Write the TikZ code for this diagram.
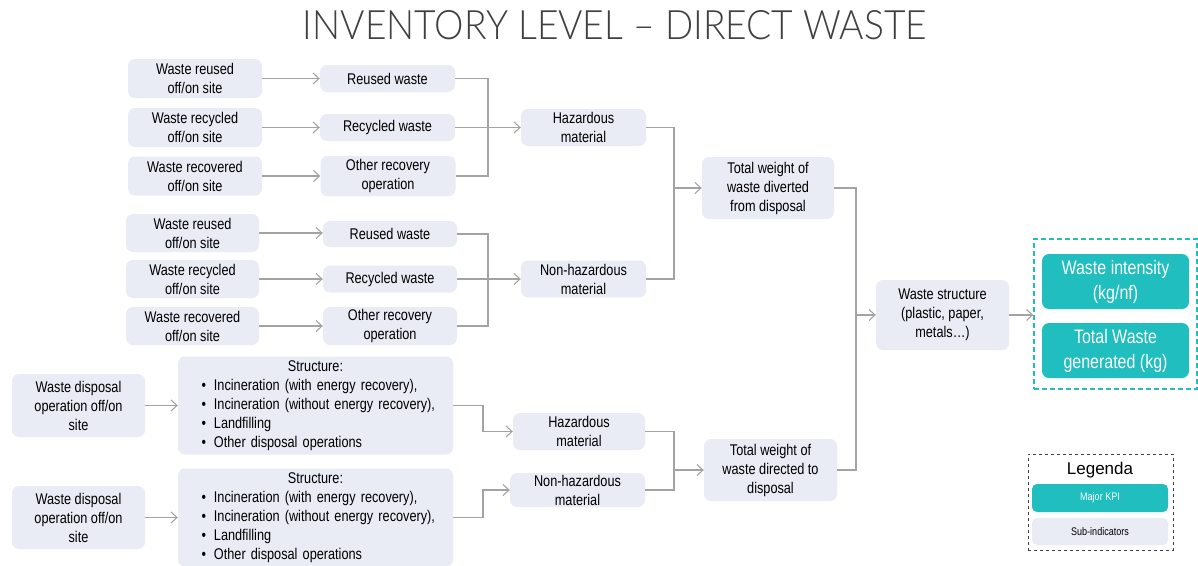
\documentclass[tikz,border=0pt]{standalone}
\usepackage{fontspec}
\usepackage{graphicx}
\usetikzlibrary{arrows.meta}
\setmainfont{Liberation Sans}[FakeStretch=0.82]
\newfontfamily\plainsans{Liberation Sans}
\IfFontExistsTF{Lato Light}
  {\newfontfamily\titlefont{Lato Light}[Ligatures=TeX]}
  {\newfontfamily\titlefont{Lato}[Ligatures=TeX]}

\definecolor{subfill}{HTML}{E9EBF5}
\definecolor{kpiteal}{HTML}{20BEBE}
\definecolor{wire}{HTML}{A3A3A3}
\definecolor{titlegray}{HTML}{404040}

\tikzset{
  sub/.style={fill=subfill, rounded corners=7pt, align=center, inner sep=0pt,
    font=\fontsize{15.5}{19}\selectfont, text=black},
  kpi/.style={fill=kpiteal, rounded corners=7pt, align=center, inner sep=0pt,
    font=\fontsize{19.5}{25}\selectfont, text=white},
  conn/.style={draw=wire, line width=1.1pt},
  arr/.style={conn, -{Straight Barb[length=6pt,width=11pt,line width=1.1pt]}},
  structbox/.style={sub, text width=250pt, align=left,
    minimum width=275pt, minimum height=98pt},
}
\newcommand{\itm}[1]{\hspace*{11pt}\textbullet\hspace{8pt}#1}

\begin{document}
\begin{tikzpicture}[x=1pt,y=-1pt]
\useasboundingbox (0,0) rectangle (1198,565);

% heading
\node[text=titlegray] (title) at (615,25)
  {\resizebox{624pt}{29pt}{\titlefont INVENTORY LEVEL \textendash{} DIRECT WASTE}};

% upper hazardous branch
\node[sub, minimum width=134pt, minimum height=39pt] (a1) at (195,78.5) {Waste reused\\off/on site};
\node[sub, minimum width=134pt, minimum height=39pt] (a2) at (195,127.5) {Waste recycled\\off/on site};
\node[sub, minimum width=134pt, minimum height=39pt] (a3) at (195,176) {Waste recovered\\off/on site};
\node[sub, minimum width=135pt, minimum height=27pt] (b1) at (387.5,78.5) {Reused waste};
\node[sub, minimum width=135pt, minimum height=27pt] (b2) at (387.5,127.5) {Recycled waste};
\node[sub, minimum width=135pt, minimum height=40pt] (b3) at (388,176) {Other recovery\\operation};
\node[sub, minimum width=125pt, minimum height=37pt] (h1) at (583.5,127.5) {Hazardous\\material};

% upper non-hazardous branch
\node[sub, minimum width=133pt, minimum height=38pt] (c1) at (192.5,233) {Waste reused\\off/on site};
\node[sub, minimum width=133pt, minimum height=38pt] (c2) at (192.5,279) {Waste recycled\\off/on site};
\node[sub, minimum width=133pt, minimum height=38pt] (c3) at (192.5,326) {Waste recovered\\off/on site};
\node[sub, minimum width=134pt, minimum height=26pt] (d1) at (390,234) {Reused waste};
\node[sub, minimum width=134pt, minimum height=27pt] (d2) at (390,279) {Recycled waste};
\node[sub, minimum width=134pt, minimum height=38pt] (d3) at (390,326) {Other recovery\\operation};
\node[sub, minimum width=125pt, minimum height=37pt] (n1) at (583.5,279) {Non-hazardous\\material};

\node[sub, minimum width=132pt, minimum height=62pt] (div) at (768,188) {Total weight of\\waste diverted\\from disposal};

% disposal branches
\node[sub, minimum width=133pt, minimum height=63pt] (e1) at (78.5,405.5) {Waste disposal\\operation off/on\\site};
\node[structbox] (f1) at (315.5,405.5) {\makebox[\linewidth]{Structure:}\\
  \itm{Incineration (with energy recovery),}\\
  \itm{Incineration (without energy recovery),}\\
  \itm{Landfilling}\\
  \itm{Other disposal operations}};
\node[sub, minimum width=133pt, minimum height=63pt] (e2) at (78.5,517.5) {Waste disposal\\operation off/on\\site};
\node[structbox] (f2) at (315.5,517.5) {\makebox[\linewidth]{Structure:}\\
  \itm{Incineration (with energy recovery),}\\
  \itm{Incineration (without energy recovery),}\\
  \itm{Landfilling}\\
  \itm{Other disposal operations}};
\node[sub, minimum width=132pt, minimum height=37pt] (h2) at (579,431.5) {Hazardous\\material};
\node[sub, minimum width=135pt, minimum height=34pt] (n2) at (577.5,490) {Non-hazardous\\material};
\node[sub, minimum width=133pt, minimum height=62pt] (dir) at (770.5,470) {Total weight of\\waste directed to\\disposal};

% summary
\node[sub, minimum width=133pt, minimum height=70pt] (ws) at (942.5,315) {Waste structure\\(plastic, paper,\\metals\dots)};
\node[draw=kpiteal, line width=1.4pt, dash pattern=on 5pt off 3pt,
  minimum width=163pt, minimum height=150pt, inner sep=0pt] (kpibox) at (1115.5,314) {};
\node[kpi, minimum width=147pt, minimum height=55pt] (wi) at (1115.5,281.5) {Waste intensity\\(kg/nf)};
\node[kpi, minimum width=147pt, minimum height=55pt] (tw) at (1115.5,350.5) {Total Waste\\generated (kg)};

% key
\node[draw=black!75, dashed, line width=0.9pt, minimum width=145pt, minimum height=96pt,
  inner sep=0pt] (legbox) at (1100.5,502) {};
\node[font=\plainsans\fontsize{17}{20}\selectfont] (legtitle) at (1100,470) {Legenda};
\node[kpi, rounded corners=5pt, font=\fontsize{11}{13}\selectfont, minimum width=136pt, minimum height=28pt] (lk) at (1100,498) {Major KPI};
\node[sub, rounded corners=5pt, font=\fontsize{11}{13}\selectfont, minimum width=136pt, minimum height=27pt] (ls) at (1100,531.5) {Sub-indicators};

% bus lines
\coordinate (x1) at (488,0);
\coordinate (x2) at (674,0);
\coordinate (x3) at (856,0);
\coordinate (x4) at (483,0);

% connectors
\foreach \s/\t in {a1/b1,a2/b2,a3/b3,c1/d1,c2/d2,c3/d3,e1/f1,e2/f2}
  \draw[arr] (\s.east) -- (\t.west |- \s.east);

\draw[conn] (b1.east) -| (x1 |- b3.east) -- (b3.east);
\draw[arr] (b2.east) -- (h1.west);
\draw[conn] (d1.east) -| (x1 |- d3.east) -- (d3.east);
\draw[arr] (d2.east) -- (n1.west);

\draw[conn] (h1.east) -| (x2 |- n1.east) -- (n1.east);
\draw[arr] (x2 |- div.west) -- (div.west);

\draw[arr] (f1.east) -- (x4 |- f1.east) |- (h2.west);
\draw[arr] (f2.east) -- (x4 |- f2.east) |- (n2.west);
\draw[conn] (h2.east) -| (x2 |- n2.east) -- (n2.east);
\draw[arr] (x2 |- dir.west) -- (dir.west);

\draw[conn] (div.east) -| (x3 |- dir.east) -- (dir.east);
\draw[arr] (x3 |- ws.west) -- (ws.west);
\draw[arr] (ws.east) -- (kpibox.west |- ws.east);
\end{tikzpicture}
\end{document}
